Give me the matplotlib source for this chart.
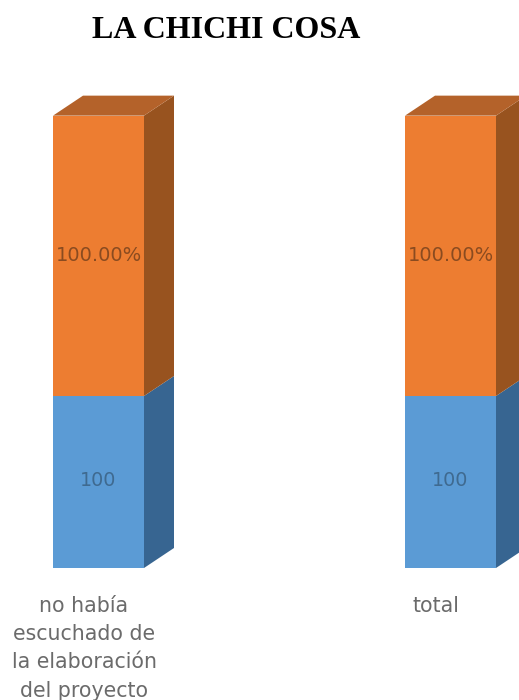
import matplotlib
matplotlib.use("Agg")
import matplotlib.pyplot as plt
from matplotlib.patches import Polygon

categories = ["no había\nescuchado de\nla elaboración\ndel proyecto", "total"]
blue_values = [100, 100]
orange_values = [163, 163]
blue_labels = ["100", "100"]
orange_labels = ["100.00%", "100.00%"]
title = "LA CHICHI COSA"

W, H = 519, 700
PX_PER_UNIT_X = 352.0
PX_PER_UNIT_Y = 1.72
FIRST_CENTER_PX = 98.5
BASE_PX = 568
TOP_PX = 80
BAR_WIDTH = 91 / PX_PER_UNIT_X
DX = 30 / PX_PER_UNIT_X
DY = 20 / PX_PER_UNIT_Y

ORANGE, ORANGE_SIDE, ORANGE_TOP = "#ED7D31", "#98531F", "#B4622A"
BLUE, BLUE_SIDE = "#5B9BD5", "#376591"

fig = plt.figure(figsize=(W / 100, H / 100), dpi=100, facecolor="white")
ax = fig.add_axes([0, (H - BASE_PX) / H, 1, (BASE_PX - TOP_PX) / H])
ax.set_xlim(-FIRST_CENTER_PX / PX_PER_UNIT_X, (W - FIRST_CENTER_PX) / PX_PER_UNIT_X)
ax.set_ylim(0, (BASE_PX - TOP_PX) / PX_PER_UNIT_Y)
ax.axis("off")

xs = list(range(len(categories)))
ax.bar(xs, blue_values, BAR_WIDTH, color=BLUE, zorder=3, clip_on=False)
ax.bar(xs, orange_values, BAR_WIDTH, bottom=blue_values, color=ORANGE, zorder=3, clip_on=False)


def side(x, y0, y1, color):
    r = x + BAR_WIDTH / 2
    ax.add_patch(Polygon([(r, y0), (r + DX, y0 + DY), (r + DX, y1 + DY), (r, y1)],
                         closed=True, fc=color, ec="none", zorder=2))


def top(x, y, color):
    l, r = x - BAR_WIDTH / 2, x + BAR_WIDTH / 2
    ax.add_patch(Polygon([(l, y), (r, y), (r + DX, y + DY), (l + DX, y + DY)],
                         closed=True, fc=color, ec="none", zorder=2))


for x, b, o, bl, ol, cat in zip(xs, blue_values, orange_values, blue_labels, orange_labels, categories):
    side(x, 0, b, BLUE_SIDE)
    side(x, b, b + o, ORANGE_SIDE)
    top(x, b + o, ORANGE_TOP)
    ax.annotate(bl, xy=(x, b / 2), xytext=(0, 1.4), textcoords="offset points",
                ha="center", va="center", color="#3F6A90",
                fontsize=13.8, family="DejaVu Sans", zorder=4)
    ax.text(x, b + o / 2, ol, ha="center", va="center", color="#8A4B20",
            fontsize=14, family="DejaVu Sans", zorder=4)
    ax.annotate(cat, xy=(x, 0), xytext=(-14.5 * 0.72, -20), textcoords="offset points",
                ha="center", va="top", color="#6B6B6B", fontsize=14.8,
                family="DejaVu Sans", linespacing=1.52, annotation_clip=False)

fig.text(226.5 / W, 1 - 30 / H, title, ha="center", va="center",
         family="Liberation Serif", fontweight="bold", fontsize=23, color="black")

fig.savefig("out.png", dpi=100, facecolor="white")
